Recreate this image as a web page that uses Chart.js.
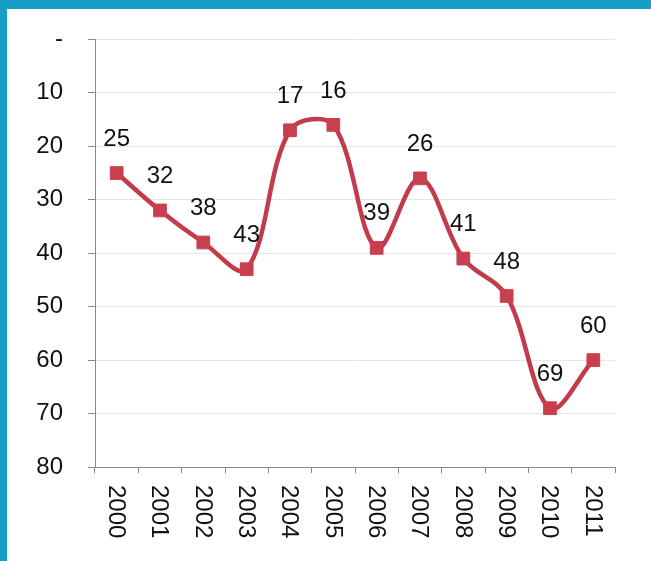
<!DOCTYPE html>
<html>
<head>
<meta charset="utf-8">
<script src="https://cdn.jsdelivr.net/npm/chart.js@4/dist/chart.umd.min.js"></script>
<style>
  html, body { margin: 0; padding: 0; background: #179ec8; }
  #frame { position: absolute; left: 7px; top: 9px; width: 644px; height: 552px; background: #fff; }
  #wrap { position: absolute; left: 0; top: 0; width: 651px; height: 561px; }
</style>
</head>
<body>
<div id="frame"></div>
<div id="wrap"><canvas id="rankChart" width="651" height="561"></canvas></div>
<script>
// Data
const years = ['2000', '2001', '2002', '2003', '2004', '2005', '2006', '2007', '2008', '2009', '2010', '2011'];
const ranks = [25, 32, 38, 43, 17, 16, 39, 26, 41, 48, 69, 60];
const yTicks = [0, 10, 20, 30, 40, 50, 60, 70, 80];

const FONT = '"Liberation Sans", Arial, sans-serif';
const lineColor = '#c23a4b';

// Value labels above each point
const valueLabels = {
  id: 'valueLabels',
  afterDatasetsDraw(chart) {
    const ctx = chart.ctx;
    const meta = chart.getDatasetMeta(0);
    ctx.save();
    ctx.font = '24px ' + FONT;
    ctx.fillStyle = '#111';
    ctx.textAlign = 'center';
    ctx.textBaseline = 'middle';
    meta.data.forEach((pt, i) => {
      ctx.fillText(String(ranks[i]), pt.x, pt.y - 34);
    });
    ctx.restore();
  }
};

// Category labels turned clockwise (read top to bottom)
const rotatedXLabels = {
  id: 'rotatedXLabels',
  afterDraw(chart) {
    const ctx = chart.ctx;
    const xs = chart.scales.x;
    ctx.save();
    ctx.font = '24px ' + FONT;
    ctx.fillStyle = '#111';
    ctx.textAlign = 'left';
    ctx.textBaseline = 'middle';
    years.forEach((label, i) => {
      const x = xs.getPixelForValue(i);
      ctx.save();
      ctx.translate(x - 1, xs.top + 18);
      ctx.rotate(Math.PI / 2);
      ctx.fillText(label, 0, 0);
      ctx.restore();
    });
    ctx.restore();
  }
};

const ctx = document.getElementById('rankChart').getContext('2d');
const rankChart = new Chart(ctx, {
  type: 'line',
  data: {
    labels: years,
    datasets: [{
      data: ranks,
      borderColor: lineColor,
      borderWidth: 4.5,
      tension: 0.35,
      pointStyle: 'rect',
      pointRadius: 9,
      pointBorderWidth: 1,
      pointBackgroundColor: '#c8404f',
      pointBorderColor: '#c8404f',
      fill: false,
    }],
  },
  options: {
    responsive: false,
    animation: false,
    events: [],
    layout: { padding: { left: 0, right: 36, top: 37, bottom: 0 } },
    plugins: {
      legend: { display: false },
      tooltip: { enabled: false },
    },
    scales: {
      x: {
        offset: true,
        grid: {
          offset: true,
          drawOnChartArea: false,
          drawTicks: true,
          tickLength: 6,
          tickColor: '#8a8a8a',
        },
        border: { color: '#8a8a8a', width: 1 },
        ticks: { display: false },
        afterFit: (scale) => { scale.height = 94; },
      },
      y: {
        reverse: true,
        min: 0,
        max: 80,
        afterBuildTicks: (scale) => { scale.ticks = yTicks.map(v => ({ value: v })); },
        grid: {
          color: '#e6e6e6',
          drawTicks: true,
          tickLength: 7,
          tickColor: '#8a8a8a',
        },
        border: { color: '#8a8a8a', width: 1 },
        ticks: {
          padding: 25,
          color: '#111',
          font: { size: 24, family: FONT },
          callback: (value) => value === 0 ? '-' : String(value),
        },
        afterFit: (scale) => { scale.width = 95; },
      },
    },
  },
  plugins: [valueLabels, rotatedXLabels],
});
</script>
</body>
</html>
